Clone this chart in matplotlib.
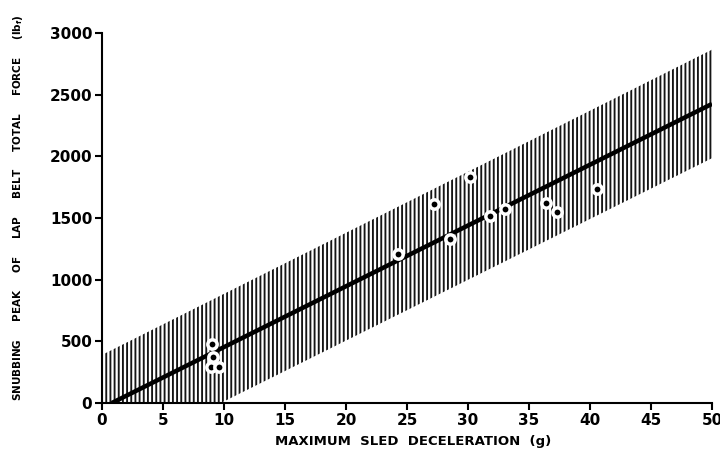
import matplotlib
matplotlib.use("Agg")
import matplotlib.pyplot as plt

# Data
pts_x = [9.0, 9.1, 8.9, 9.6, 24.3, 27.2, 28.5, 30.2, 31.8, 33.0, 36.4, 37.3, 40.6]
pts_y = [475, 370, 290, 290, 1208, 1614, 1330, 1833, 1517, 1573, 1622, 1549, 1736]

fit_x = [0.8, 50]
fit_y = [0, 2425]

band_x = [0, 50]
band_top = [390, 2865]
band_bot = [-480, 1985]

x_ticks = [0, 5, 10, 15, 20, 25, 30, 35, 40, 45, 50]
y_ticks = [0, 500, 1000, 1500, 2000, 2500, 3000]

plt.rcParams['hatch.linewidth'] = 1.35
plt.rcParams['hatch.color'] = '#151515'

fig = plt.figure(figsize=(7.2, 4.53), dpi=100)
ax = fig.add_axes([102/720, 50/453, 610/720, 370/453])

ax.fill_between(band_x, band_bot, band_top, facecolor='none', edgecolor='#151515',
                hatch='||||', linewidth=0, zorder=1)
ax.plot(fit_x, fit_y, color='black', lw=3.2, solid_capstyle='butt', zorder=2)
ax.scatter(pts_x, pts_y, s=45, facecolor='black', edgecolor='white', linewidth=2.5, zorder=3)

ax.set_xlim(0, 50)
ax.set_ylim(0, 3000)
ax.set_xticks(x_ticks)
ax.set_yticks(y_ticks)
ax.set_xticklabels([str(v) for v in x_ticks], fontsize=11, fontweight='bold')
ax.set_yticklabels([str(v) for v in y_ticks], fontsize=11, fontweight='bold')
for s in ['top', 'right']:
    ax.spines[s].set_visible(False)
for s in ['left', 'bottom']:
    ax.spines[s].set_linewidth(1.5)
ax.tick_params(direction='out', length=5, width=1.5, pad=2)

fig.text(413/720, 1 - 441/453, 'MAXIMUM  SLED  DECELERATION  (g)', ha='center', va='center',
         fontsize=9.5, fontweight='bold')
fig.text(18/720, 1 - 208/453,
         'SNUBBING     PEAK     OF     LAP     BELT     TOTAL     FORCE     (lb$_\\mathbf{f}$)',
         ha='center', va='center', rotation=90, fontsize=7.5, fontweight='bold')

fig.savefig('out.png', dpi=100)
